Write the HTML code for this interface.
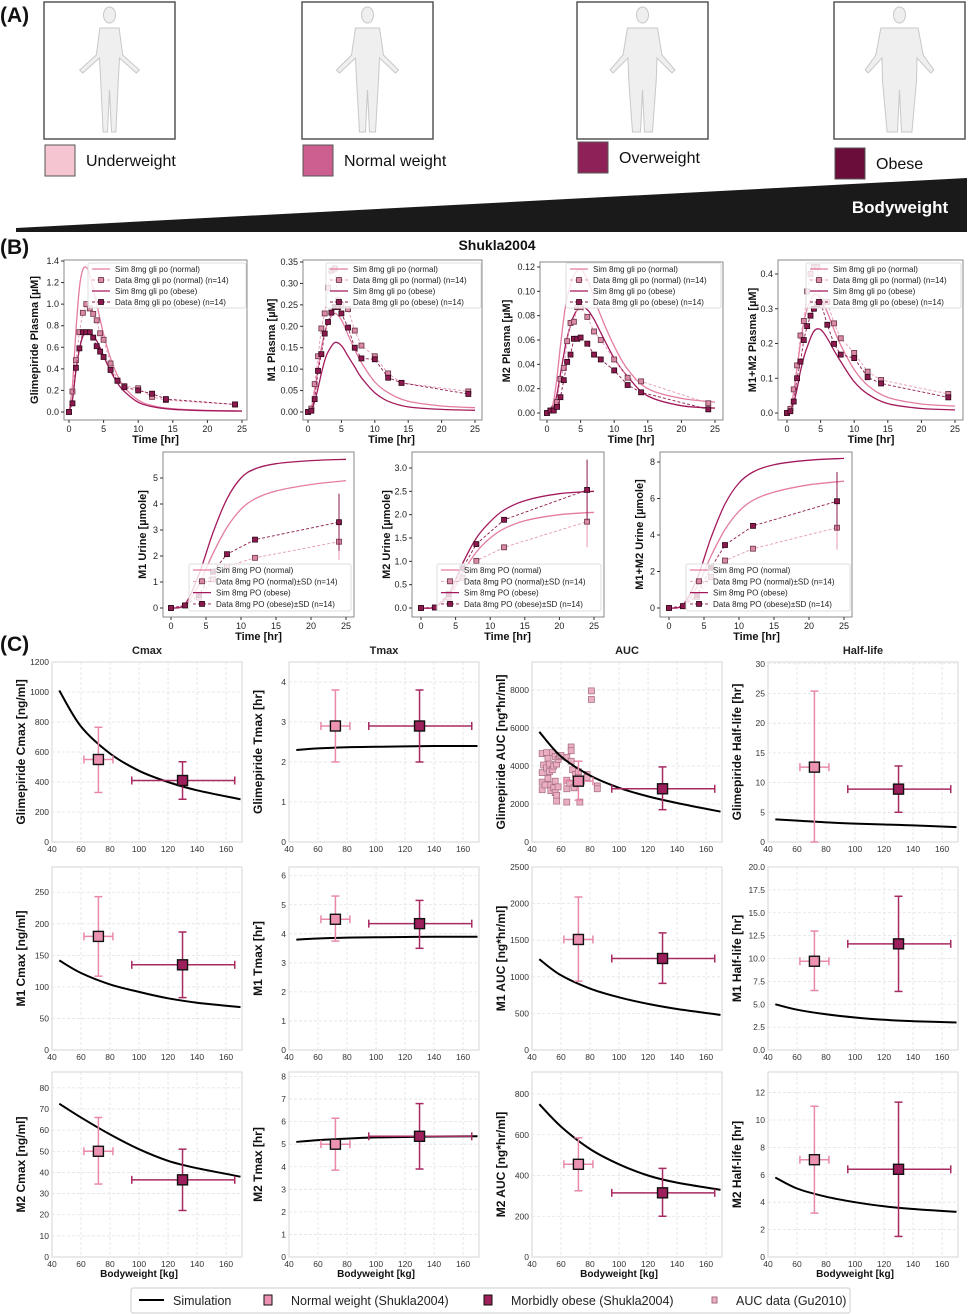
<!DOCTYPE html>
<html><head><meta charset="utf-8"><style>
html,body{margin:0;padding:0;background:#fff;}
svg{display:block;font-family:"Liberation Sans","DejaVu Sans",sans-serif;}
</style></head><body>
<svg id="fig" width="969" height="1314" viewBox="0 0 969 1314" xmlns="http://www.w3.org/2000/svg"></svg>
<script>
// ---------- DATA: Section B time courses ----------
const tData = [0,0.5,1,1.5,2,2.5,3,3.5,4,4.5,5,6,7,8,10,12,14,24];
const tSim = [0,0.5,1,1.5,2,2.5,3,4,5,6,7,8,10,12,15,20,25];
const glyDataN = [0,0.19,0.48,0.74,0.92,1.0,0.96,0.91,0.85,0.73,0.67,0.45,0.29,0.24,0.22,0.14,0.11,0.07];
const glyDataO = [0,0.08,0.41,0.59,0.74,0.74,0.74,0.69,0.61,0.56,0.51,0.39,0.29,0.23,0.20,0.17,0.12,0.07];
const glySimN = [0,0.25,0.75,1.15,1.32,1.34,1.27,1.0,0.72,0.5,0.34,0.23,0.11,0.06,0.03,0.015,0.01];
const glySimO = [0,0.12,0.38,0.58,0.70,0.74,0.74,0.66,0.52,0.38,0.27,0.19,0.09,0.05,0.025,0.012,0.008];
const m1DataN = [0,0.008,0.065,0.13,0.195,0.23,0.29,0.33,0.335,0.26,0.25,0.24,0.19,0.155,0.13,0.09,0.068,0.048];
const m1DataO = [0,0.003,0.03,0.096,0.135,0.183,0.21,0.232,0.245,0.245,0.23,0.197,0.15,0.125,0.123,0.08,0.068,0.042];
const m1SimN = [0,0.01,0.05,0.10,0.15,0.185,0.21,0.23,0.215,0.18,0.145,0.115,0.07,0.045,0.025,0.014,0.01];
const m1SimO = [0,0.005,0.025,0.055,0.09,0.12,0.14,0.162,0.155,0.13,0.105,0.08,0.045,0.025,0.012,0.006,0.004];
const m2DataN = [0,0.002,0.003,0.009,0.028,0.037,0.059,0.074,0.075,0.087,0.087,0.079,0.067,0.06,0.044,0.029,0.026,0.008];
const m2DataO = [0,0.002,0.002,0.005,0.013,0.027,0.042,0.048,0.061,0.061,0.062,0.057,0.048,0.044,0.035,0.023,0.017,0.003];
const m2SimN = [0,0.002,0.01,0.03,0.055,0.078,0.095,0.113,0.118,0.11,0.095,0.08,0.055,0.036,0.02,0.012,0.009];
const m2SimO = [0,0.001,0.005,0.016,0.032,0.048,0.062,0.08,0.087,0.085,0.077,0.066,0.045,0.03,0.014,0.006,0.004];
const m12DataN = [0,0.012,0.068,0.137,0.223,0.265,0.35,0.40,0.42,0.42,0.31,0.32,0.258,0.215,0.173,0.119,0.095,0.055];
const m12DataO = [0,0.005,0.033,0.1,0.148,0.21,0.25,0.28,0.30,0.31,0.32,0.254,0.199,0.168,0.158,0.103,0.085,0.045];
const m12SimN = [0,0.012,0.06,0.13,0.2,0.26,0.3,0.34,0.33,0.29,0.24,0.195,0.125,0.08,0.045,0.026,0.02];
const m12SimO = [0,0.006,0.03,0.07,0.12,0.16,0.19,0.235,0.24,0.215,0.18,0.148,0.09,0.055,0.027,0.013,0.009];
// urine
const tUr = [0,2,4,6,8,12,24];
const tUrSim = [0,2,4,6,8,10,12,15,20,25];
const u1DataN = [0,0.1,0.4,1.1,1.6,1.93,2.55];
const u1DataO = [0,0.1,0.5,1.4,2.07,2.63,3.3];
const u1SdN = [0,0,0,0,0,0,0.7];
const u1SdO = [0,0,0,0,0,0,1.1];
const u1SimN = [0,0.1,0.9,2.1,3.1,3.8,4.2,4.5,4.75,4.9];
const u1SimO = [0,0.15,1.3,2.9,4.2,5.0,5.35,5.55,5.67,5.72];
const u2DataN = [0,0.01,0.22,0.65,1.01,1.3,1.85];
const u2DataO = [0,0.01,0.3,0.85,1.37,1.89,2.53];
const u2SdN = [0,0,0,0,0,0,0.55];
const u2SdO = [0,0,0,0,0,0,0.65];
const u2SimN = [0,0.02,0.25,0.75,1.2,1.5,1.7,1.87,2.0,2.05];
const u2SimO = [0,0.02,0.3,0.95,1.5,1.85,2.1,2.3,2.45,2.5];
const u12DataN = [0,0.1,0.6,1.7,2.6,3.25,4.4];
const u12DataO = [0,0.1,0.7,2.2,3.45,4.5,5.85];
const u12SdN = [0,0,0,0,0,0,1.2];
const u12SdO = [0,0,0,0,0,0,1.6];
const u12SimN = [0,0.12,1.15,2.85,4.3,5.3,5.9,6.35,6.75,6.95];
const u12SimO = [0,0.17,1.6,3.85,5.7,6.85,7.45,7.85,8.1,8.2];

// ---------- DATA: Section C ----------
const simBW = [45,60,80,100,120,140,170];
const bwNormal = 72, bwNormalLo = 62, bwNormalHi = 82;
const bwObese = 130, bwObeseLo = 95, bwObeseHi = 166;
const cmaxN = [550,330,765], cmaxO = [410,285,535];
const cmaxSim = [1010,770,590,475,400,345,285];
const tmaxN = [2.9,2.0,3.8], tmaxO = [2.9,2.0,3.8];
const tmaxSim = [2.3,2.34,2.37,2.38,2.39,2.4,2.4];
const aucN = [3200,2200,4250], aucO = [2800,1700,3950];
const aucSim = [5800,4500,3500,2850,2400,2050,1600];
const hlN = [12.6,0,25.4], hlO = [8.9,5,12.8];
const hlSim = [3.8,3.6,3.3,3.1,2.95,2.8,2.5];
const m1CmaxN = [180,117,243], m1CmaxO = [135,83,187];
const m1CmaxSim = [142,122,104,92,82,75,68];
const m1TmaxN = [4.5,3.75,5.3], m1TmaxO = [4.35,3.5,5.15];
const m1TmaxSim = [3.8,3.84,3.87,3.88,3.89,3.9,3.9];
const m1AucN = [1510,940,2090], m1AucO = [1250,910,1600];
const m1AucSim = [1240,1020,840,720,630,560,480];
const m1HlN = [9.7,6.5,13], m1HlO = [11.6,6.4,16.8];
const m1HlSim = [5.0,4.4,3.9,3.55,3.3,3.15,3.0];
const m2CmaxN = [50,34.5,66], m2CmaxO = [36.5,22,51];
const m2CmaxSim = [72.5,66,58,51,45.5,42,38];
const m2TmaxN = [5.0,3.85,6.15], m2TmaxO = [5.35,3.9,6.8];
const m2TmaxSim = [5.1,5.18,5.25,5.3,5.32,5.34,5.35];
const m2AucN = [455,325,585], m2AucO = [315,200,435];
const m2AucSim = [750,640,530,455,400,365,330];
const m2HlN = [7.1,3.2,11], m2HlO = [6.4,1.5,11.3];
const m2HlSim = [5.8,5.0,4.4,4.0,3.7,3.5,3.3];
const guBW = [47,47,47,47,48,49,50,50,51,51,52,52,53,53,54,54,55,55,56,56,56,57,57,57,58,58,59,60,64,64,64,64,66,67,67,67,68,69,70,72,72,73,74,78,78,81,81,85,85];
const guAUC = [4650,3650,3150,2750,4050,3000,4700,3900,4400,3350,4100,3700,3000,2700,4700,3800,4000,2850,4500,3200,2600,4100,2450,2150,4350,2900,4500,4550,4450,3250,2800,2100,3100,5000,4800,4250,3800,2850,3550,3700,3400,2100,3200,3550,3400,7950,7500,2950,2800];

// ---------- helpers ----------
const NS = 'http://www.w3.org/2000/svg';
const svg = document.getElementById('fig');
function mk(tag, attrs, parent){
  const e = document.createElementNS(NS, tag);
  for (const k in attrs) e.setAttribute(k, attrs[k]);
  (parent || svg).appendChild(e);
  return e;
}
function txt(s, attrs, parent){ const e = mk('text', attrs, parent); e.textContent = s; return e; }
function lin(v0,p0,v1,p1){ return v => p0 + (v - v0) * (p1 - p0) / (v1 - v0); }
function smoothPath(pts){
  let d = 'M' + pts[0][0].toFixed(1) + ',' + pts[0][1].toFixed(1);
  for (let i = 0; i < pts.length - 1; i++){
    const p0 = pts[i-1] || pts[i], p1 = pts[i], p2 = pts[i+1], p3 = pts[i+2] || p2;
    const c1x = p1[0] + (p2[0]-p0[0])/6, c1y = p1[1] + (p2[1]-p0[1])/6;
    const c2x = p2[0] - (p3[0]-p1[0])/6, c2y = p2[1] - (p3[1]-p1[1])/6;
    d += ' C' + c1x.toFixed(1)+','+c1y.toFixed(1)+' '+c2x.toFixed(1)+','+c2y.toFixed(1)+' '+p2[0].toFixed(1)+','+p2[1].toFixed(1);
  }
  return d;
}

// ---------- Section A ----------
const gA = mk('g', {});


const lblA = txt('(A)', {x:0, y:22, 'font-size':21, 'font-weight':'bold', fill:'#111'}, gA);


const cats = ['Underweight','Normal weight','Overweight','Obese'];
const catCol = ['#f5c6d1','#cc5f90','#8e2157','#6a0d3b'];
const boxX = [44,302,577,834];
const labY = [145,145,142,148];
const widthF = [0.8,1.0,1.25,1.55];
for (let i = 0; i < 4; i++){
  const b = mk('rect', {x:boxX[i], y:2, width:131, height:137, fill:'#fff', stroke:'#555', 'stroke-width':1.5}, gA);
  
  
  const cx = boxX[i] + 65.5, f = widthF[i];
  const p = mk('g', {fill:'#efefef', stroke:'#c8c8c8', 'stroke-width':1}, gA);
  
  
  mk('ellipse', {cx:cx, cy:15, rx:6, ry:8}, p);
  mk('path', {d:'M'+(cx-12*f)+',28 L'+(cx+12*f)+',28 L'+(cx+14*f+2)+',55 L'+(cx+25+6*f)+',70 L'+(cx+22+6*f)+',73 L'+(cx+10*f+2)+',58 L'+(cx+11*f)+',80 L'+(cx+8*f)+',132 L'+(cx+2)+',132 L'+cx+',90 L'+(cx-2)+',132 L'+(cx-8*f)+',132 L'+(cx-11*f)+',80 L'+(cx-10*f-2)+',58 L'+(cx-22-6*f)+',73 L'+(cx-25-6*f)+',70 L'+(cx-14*f-2)+',55 Z'}, p);
  const sq = mk('rect', {x:boxX[i]+1, y:labY[i], width:30, height:31, fill:catCol[i], stroke:'#555', 'stroke-width':1}, gA);
  
  
  const t = txt(cats[i], {x:boxX[i]+42, y:labY[i]+21, 'font-size':16, fill:'#111'}, gA);
  
  
}
const wedge = mk('path', {d:'M16,228 L967,178 L967,232 L16,232 Z', fill:'#1a1a1a'}, gA);


const bwT = txt('Bodyweight', {x:900, y:213, 'font-size':17, 'font-weight':'bold', fill:'#fff', 'text-anchor':'middle'}, gA);



// ---------- Section B ----------
const colSimN = '#e47ca2', colSimO = '#a3195b';
const colDatN = '#d98aa5', colDatO = '#8d1a4f';
const lb = txt('(B)', {x:0, y:254, 'font-size':21, 'font-weight':'bold', fill:'#111'});


const st = txt('Shukla2004', {x:497, y:250, 'font-size':14, 'font-weight':'bold', fill:'#111', 'text-anchor':'middle'});



function drawB(cfg, tD, dN, dO, sdN, sdO, tS, sN, sO){
  const g = mk('g', {});
  
  
  const [L,T,R,B] = cfg.box;
  const X = lin(0, cfg.x0, 25, cfg.x25);
  const Y = lin(0, cfg.y0, cfg.ytop, cfg.ytopPx);
  const fr = mk('rect', {x:L, y:T, width:R-L, height:B-T, fill:'#fff', stroke:'#8a8a8a', 'stroke-width':1}, g);
  
  
  for (let v = 0; v <= 25; v += 5){
    mk('line', {x1:X(v), x2:X(v), y1:B, y2:B+3, stroke:'#333'}, g);
    const t = txt(String(v), {x:X(v), y:B+12, 'font-size':9, 'text-anchor':'middle', fill:'#222'}, g);
    
    
  }
  for (let k = 0; k <= cfg.nt; k++){
    const v = k * cfg.step;
    mk('line', {x1:L-3, x2:L, y1:Y(v), y2:Y(v), stroke:'#333'}, g);
    const t = txt(v.toFixed(cfg.dec), {x:L-5, y:Y(v)+3, 'font-size':9, 'text-anchor':'end', fill:'#222'}, g);
    
    
  }
  const xl = txt('Time [hr]', {x:(X(0)+X(25))/2, y:B+23, 'font-size':11, 'font-weight':'bold', 'text-anchor':'middle', fill:'#111'}, g);
  
  
  const yl = txt(cfg.ylabel, {x:0, y:0, 'font-size':11, 'font-weight':'bold', 'text-anchor':'middle', fill:'#111', transform:'translate('+cfg.ylx+','+((T+B)/2)+') rotate(-90)'}, g);
  
  
  const pn = mk('path', {d:smoothPath(tS.map((t,i)=>[X(t),Y(sN[i])])), fill:'none', stroke:colSimN, 'stroke-width':1.3}, g);
  
  
  const po = mk('path', {d:smoothPath(tS.map((t,i)=>[X(t),Y(sO[i])])), fill:'none', stroke:colSimO, 'stroke-width':1.3}, g);
  
  
  [[dN, sdN, colDatN, '#e49ab5', '#6a3045', 'data-normal'], [dO, sdO, colDatO, colDatO, '#2e0818', 'data-obese']].forEach(([d, sd, fc, lc, ec, nm]) => {
    const pl = mk('polyline', {points:tD.map((t,i)=>X(t)+','+Y(d[i])).join(' '), fill:'none', stroke:lc, 'stroke-width':0.9, 'stroke-dasharray':'3,2'}, g);
    
    
    tD.forEach((t,i) => {
      if (sd && sd[i] > 0){
        const eb = mk('line', {x1:X(t), x2:X(t), y1:Y(d[i]-sd[i]), y2:Y(d[i]+sd[i]), stroke:lc, 'stroke-width':1}, g);
        
        
      }
      const m = mk('rect', {x:X(t)-2.5, y:Y(d[i])-2.5, width:5, height:5, fill:fc, stroke:ec, 'stroke-width':0.8}, g);
      
      
    });
  });
  const lg = mk('g', {}, g);
  
  
  const [lx, ly, lw, lh, dy] = cfg.leg;
  mk('rect', {x:lx, y:ly, width:lw, height:lh, fill:'#fff', 'fill-opacity':0.8, stroke:'#ddd', rx:2}, lg);
  const items = cfg.legTexts;
  items.forEach((s, i) => {
    const yy = ly + 6 + i*dy;
    const isN = i < 2, isD = i % 2 === 1;
    const c = isN ? (isD ? '#e49ab5' : colSimN) : (isD ? colDatO : colSimO);
    mk('line', {x1:lx+4, x2:lx+22, y1:yy, y2:yy, stroke:c, 'stroke-width':isD?0.9:1.3, 'stroke-dasharray':isD?'3,2':'none'}, lg);
    if (isD) mk('rect', {x:lx+10.5, y:yy-2.5, width:5, height:5, fill:isN?colDatN:colDatO, stroke:isN?'#6a3045':'#2e0818', 'stroke-width':0.8}, lg);
    const t = txt(s, {x:lx+27, y:yy+3, 'font-size':8, fill:'#222'}, lg);
    
    
  });
}
const legTop = ['Sim 8mg gli po (normal)','Data 8mg gli po (normal) (n=14)','Sim 8mg gli po (obese)','Data 8mg gli po (obese) (n=14)'];
const legBot = ['Sim 8mg PO (normal)','Data 8mg PO (normal)\u00B1SD (n=14)','Sim 8mg PO (obese)','Data 8mg PO (obese)\u00B1SD (n=14)'];
drawB({name:'glimepiride-plasma-plot', box:[64,260,247,420], x0:69, x25:242, y0:412, ytop:1.4, ytopPx:261, nt:7, step:0.2, dec:1, ylabel:'Glimepiride Plasma [\u00B5M]', ylx:38, leg:[88,263,158,45,11], legTexts:legTop}, tData, glyDataN, glyDataO, null, null, tSim, glySimN, glySimO);
drawB({name:'m1-plasma-plot', box:[303,260,482,420], x0:308, x25:475, y0:412, ytop:0.35, ytopPx:262, nt:7, step:0.05, dec:2, ylabel:'M1 Plasma [\u00B5M]', ylx:275, leg:[326,263,155,45,11], legTexts:legTop}, tData, m1DataN, m1DataO, null, null, tSim, m1SimN, m1SimO);
drawB({name:'m2-plasma-plot', box:[540,262,723,420], x0:547, x25:715, y0:413, ytop:0.12, ytopPx:267, nt:6, step:0.02, dec:2, ylabel:'M2 Plasma [\u00B5M]', ylx:510, leg:[566,263,155,45,11], legTexts:legTop}, tData, m2DataN, m2DataO, null, null, tSim, m2SimN, m2SimO);
drawB({name:'m1m2-plasma-plot', box:[778,260,963,420], x0:787, x25:955, y0:413, ytop:0.4, ytopPx:274, nt:4, step:0.1, dec:1, ylabel:'M1+M2 Plasma [\u00B5M]', ylx:756, leg:[806,263,155,45,11], legTexts:legTop}, tData, m12DataN, m12DataO, null, null, tSim, m12SimN, m12SimO);
drawB({name:'m1-urine-plot', box:[163,452,354,617], x0:171, x25:346, y0:608, ytop:5, ytopPx:478, nt:5, step:1, dec:0, ylabel:'M1 Urine [\u00B5mole]', ylx:146, leg:[189,564,162,47,11.3], legTexts:legBot}, tUr, u1DataN, u1DataO, u1SdN, u1SdO, tUrSim, u1SimN, u1SimO);
drawB({name:'m2-urine-plot', box:[412,452,604,617], x0:421, x25:594, y0:608, ytop:3, ytopPx:468, nt:6, step:0.5, dec:1, ylabel:'M2 Urine [\u00B5mole]', ylx:390, leg:[437,564,164,47,11.3], legTexts:legBot}, tUr, u2DataN, u2DataO, u2SdN, u2SdO, tUrSim, u2SimN, u2SimO);
drawB({name:'m1m2-urine-plot', box:[660,452,852,617], x0:669, x25:844, y0:608, ytop:8, ytopPx:462, nt:4, step:2, dec:0, ylabel:'M1+M2 Urine [\u00B5mole]', ylx:643, leg:[686,564,164,47,11.3], legTexts:legBot}, tUr, u12DataN, u12DataO, u12SdN, u12SdO, tUrSim, u12SimN, u12SimO);

// ---------- Section C ----------
const lc = txt('(C)', {x:0, y:651, 'font-size':21, 'font-weight':'bold', fill:'#111'});


const colTitles = ['Cmax','Tmax','AUC','Half-life'];
const colL = [52,289,532,768];
const rowTB = [[662,842],[867,1050],[1072,1257]];
colTitles.forEach((s,i) => {
  const t = txt(s, {x:colL[i]+95, y:654, 'font-size':11, 'font-weight':'bold', 'text-anchor':'middle', fill:'#222'});
  
  
});
const nErr = '#e889ab', oErr = '#a82a62';
function drawC(cfg, nArr, oArr, sim, guX, guY){
  const g = mk('g', {});
  
  
  const L = colL[cfg.col], R = L + 190, T = rowTB[cfg.row][0], B = rowTB[cfg.row][1];
  const X = lin(40, L, 171, R);
  const Y = lin(0, B, cfg.ymax, T);
  const fr = mk('rect', {x:L, y:T, width:R-L, height:B-T, fill:'#fff', stroke:'#ddd', 'stroke-width':1.2}, g);
  
  
  for (let v = 40; v <= 160; v += 20){
    if (v > 40) mk('line', {x1:X(v), x2:X(v), y1:T, y2:B, stroke:'#e2e2e2', 'stroke-dasharray':'3,2', 'stroke-width':0.8}, g);
    const t = txt(String(v), {x:X(v), y:B+10, 'font-size':8.5, 'text-anchor':'middle', fill:'#333'}, g);
    
    
  }
  for (let k = 0; k <= cfg.nt; k++){
    const v = k * cfg.step;
    if (k > 0) mk('line', {x1:L, x2:R, y1:Y(v), y2:Y(v), stroke:'#e2e2e2', 'stroke-dasharray':'3,2', 'stroke-width':0.8}, g);
    const t = txt(v.toFixed(cfg.dec), {x:L-3, y:Y(v)+3, 'font-size':8.5, 'text-anchor':'end', fill:'#333'}, g);
    
    
  }
  const yl = txt(cfg.ylabel, {x:0, y:0, 'font-size':12, 'font-weight':'bold', 'text-anchor':'middle', fill:'#111', transform:'translate('+(L-27)+','+((T+B)/2)+') rotate(-90)'}, g);
  
  
  if (cfg.row === 2){
    const xl = txt('Bodyweight [kg]', {x:X(100), y:B+20, 'font-size':10, 'font-weight':'bold', 'text-anchor':'middle', fill:'#111'}, g);
    
    
  }
  if (guX){
    guX.forEach((bw,i) => {
      const m = mk('rect', {x:X(bw)-3, y:Y(guY[i])-3, width:6, height:6, fill:'#eaaec2', stroke:'#a46a80', 'stroke-width':0.7}, g);
      
      
    });
  }
  const sp = mk('path', {d:smoothPath(simBW.map((bw,i)=>[X(bw),Y(sim[i])])), fill:'none', stroke:'#000', 'stroke-width':2}, g);
  
  
  [[bwNormal,bwNormalLo,bwNormalHi,nArr,nErr,'#ec93b3','normal-weight'],[bwObese,bwObeseLo,bwObeseHi,oArr,oErr,'#9d1f5c','morbidly-obese']].forEach(([bx,bl,bh,a,ec,fc,nm]) => {
    const e = mk('g', {stroke:ec, 'stroke-width':1.5}, g);
    
    
    mk('line', {x1:X(bx), x2:X(bx), y1:Y(a[1]), y2:Y(a[2])}, e);
    mk('line', {x1:X(bl), x2:X(bh), y1:Y(a[0]), y2:Y(a[0])}, e);
    mk('line', {x1:X(bx)-4, x2:X(bx)+4, y1:Y(a[1]), y2:Y(a[1])}, e);
    mk('line', {x1:X(bx)-4, x2:X(bx)+4, y1:Y(a[2]), y2:Y(a[2])}, e);
    mk('line', {x1:X(bl), x2:X(bl), y1:Y(a[0])-4, y2:Y(a[0])+4}, e);
    mk('line', {x1:X(bh), x2:X(bh), y1:Y(a[0])-4, y2:Y(a[0])+4}, e);
    const m = mk('rect', {x:X(bx)-5, y:Y(a[0])-5, width:10, height:10, fill:fc, stroke:'#111', 'stroke-width':1.4}, g);
    
    
  });
}
drawC({name:'glimepiride-cmax-plot', col:0, row:0, ymax:1200, nt:6, step:200, dec:0, ylabel:'Glimepiride Cmax [ng/ml]'}, cmaxN, cmaxO, cmaxSim);
drawC({name:'glimepiride-tmax-plot', col:1, row:0, ymax:4.5, nt:4, step:1, dec:0, ylabel:'Glimepiride Tmax [hr]'}, tmaxN, tmaxO, tmaxSim);
drawC({name:'glimepiride-auc-plot', col:2, row:0, ymax:9470, nt:4, step:2000, dec:0, ylabel:'Glimepiride AUC [ng*hr/ml]'}, aucN, aucO, aucSim, guBW, guAUC);
drawC({name:'glimepiride-halflife-plot', col:3, row:0, ymax:30.3, nt:6, step:5, dec:0, ylabel:'Glimepiride Half-life [hr]'}, hlN, hlO, hlSim);
drawC({name:'m1-cmax-plot', col:0, row:1, ymax:290, nt:5, step:50, dec:0, ylabel:'M1 Cmax [ng/ml]'}, m1CmaxN, m1CmaxO, m1CmaxSim);
drawC({name:'m1-tmax-plot', col:1, row:1, ymax:6.3, nt:6, step:1, dec:0, ylabel:'M1 Tmax [hr]'}, m1TmaxN, m1TmaxO, m1TmaxSim);
drawC({name:'m1-auc-plot', col:2, row:1, ymax:2500, nt:5, step:500, dec:0, ylabel:'M1 AUC [ng*hr/ml]'}, m1AucN, m1AucO, m1AucSim);
drawC({name:'m1-halflife-plot', col:3, row:1, ymax:20, nt:8, step:2.5, dec:1, ylabel:'M1 Half-life [hr]'}, m1HlN, m1HlO, m1HlSim);
drawC({name:'m2-cmax-plot', col:0, row:2, ymax:87.5, nt:8, step:10, dec:0, ylabel:'M2 Cmax [ng/ml]'}, m2CmaxN, m2CmaxO, m2CmaxSim);
drawC({name:'m2-tmax-plot', col:1, row:2, ymax:8.2, nt:8, step:1, dec:0, ylabel:'M2 Tmax [hr]'}, m2TmaxN, m2TmaxO, m2TmaxSim);
drawC({name:'m2-auc-plot', col:2, row:2, ymax:908, nt:4, step:200, dec:0, ylabel:'M2 AUC [ng*hr/ml]'}, m2AucN, m2AucO, m2AucSim);
drawC({name:'m2-halflife-plot', col:3, row:2, ymax:13.5, nt:6, step:2, dec:0, ylabel:'M2 Half-life [hr]'}, m2HlN, m2HlO, m2HlSim);

// bottom legend
const lgC = mk('g', {});


mk('rect', {x:131, y:1288, width:719, height:25, fill:'#fff', stroke:'#ccc', rx:2}, lgC);
mk('line', {x1:139, x2:164, y1:1300, y2:1300, stroke:'#000', 'stroke-width':2}, lgC);
mk('rect', {x:264, y:1295, width:8, height:10, fill:'#ec93b3', stroke:'#111'}, lgC);
mk('rect', {x:484, y:1295, width:8, height:10, fill:'#9d1f5c', stroke:'#111'}, lgC);
mk('rect', {x:712, y:1297, width:5, height:6, fill:'#eaaec2', stroke:'#a46a80'}, lgC);
[['Simulation',173],['Normal weight (Shukla2004)',291],['Morbidly obese (Shukla2004)',511],['AUC data (Gu2010)',736]].forEach(([s,x]) => {
  const t = txt(s, {x:x, y:1305, 'font-size':12.5, fill:'#222'}, lgC);
  
  
});
</script>
</body></html>
